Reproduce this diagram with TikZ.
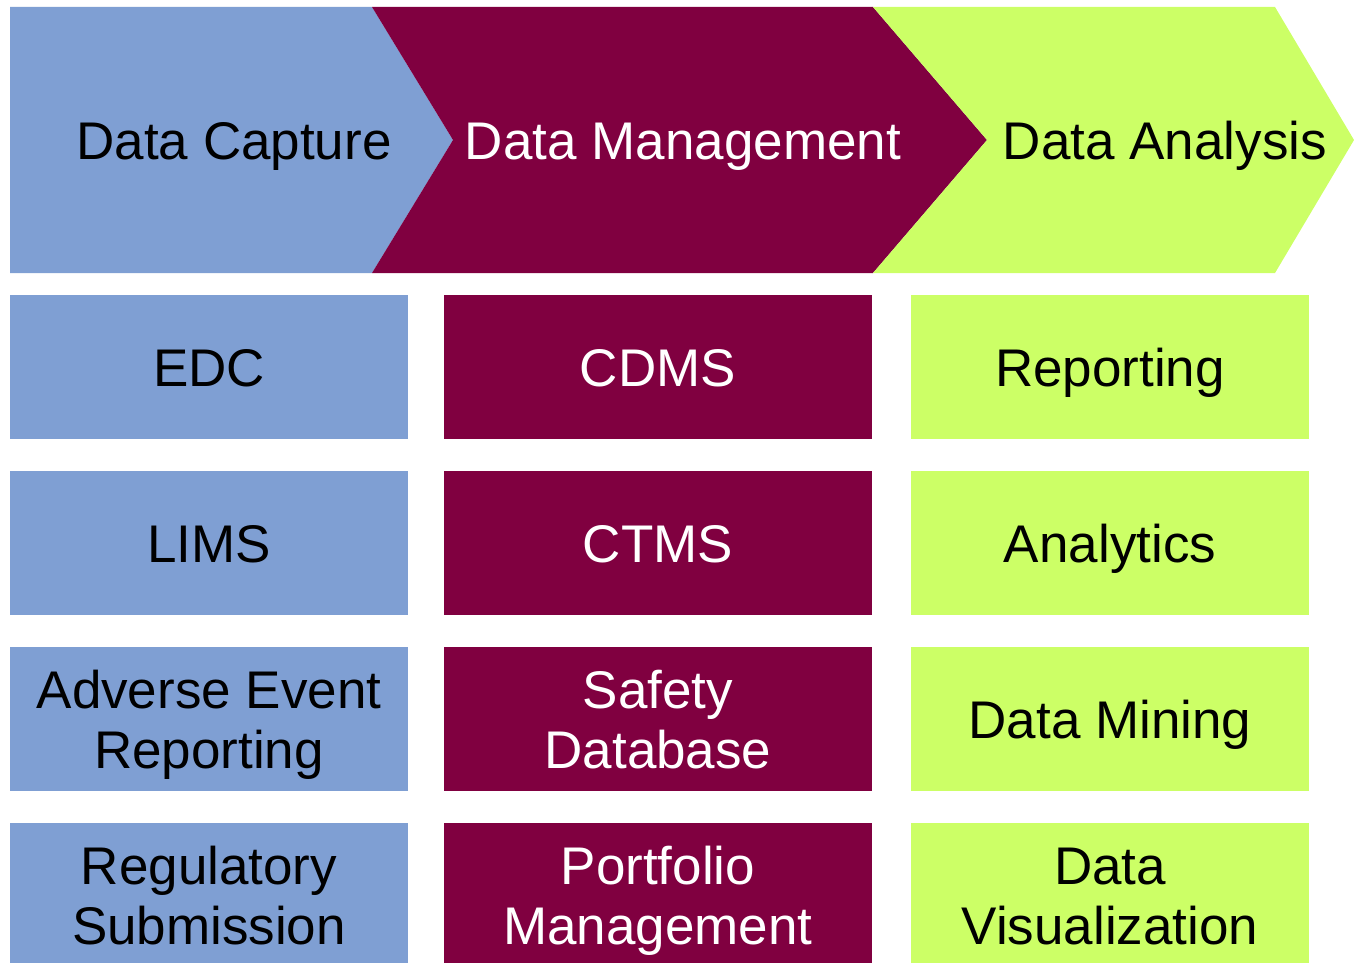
\documentclass[tikz,border=0pt]{standalone}
\usepackage{fontspec}
\setmainfont{Liberation Sans}
\definecolor{capblue}{RGB}{127,159,211}
\definecolor{mgmtred}{RGB}{128,0,64}
\definecolor{anagreen}{RGB}{204,255,102}
\begin{document}
\begin{tikzpicture}[x=1pt,y=-1pt,
  label/.style={inner sep=0pt,font=\fontsize{53}{60}\selectfont,align=center,
    text height=38pt,text depth=0pt},
  twoline/.style={text height=98pt},
  capbox/.style={label,fill=capblue,text=black,minimum width=398pt,minimum height=144pt},
  mgmtbox/.style={label,fill=mgmtred,text=white,minimum width=428pt,minimum height=144pt},
  anabox/.style={label,fill=anagreen,text=black,minimum width=398pt,minimum height=144pt}]
\useasboundingbox (0,0) rectangle (1354,963);
% chevrons
\fill[capblue] (10,7) -- (372,7) -- (453,140) -- (372,273) -- (10,273) -- cycle;
\fill[mgmtred] (372,7) -- (873,7) -- (987,140) -- (873,273) -- (372,273) -- (453,140) -- cycle;
\fill[anagreen] (873,7) -- (1275,7) -- (1354,140) -- (1275,273) -- (873,273) -- (987,140) -- cycle;
\node[label] (capture) at (234,140) {Data Capture};
\node[label,text=white] (management) at (683,140) {Data Management};
\node[label] (analysis) at (1165,140) {Data Analysis};
% capture column
\node[capbox] (edc) at (209,367) {EDC};
\node[capbox] (lims) at (209,543) {LIMS};
\node[capbox,twoline] (adverse) at (209,719) {Adverse Event\\Reporting};
\node[capbox,twoline] (regulatory) at (209,895) {Regulatory\\Submission};
% management column
\node[mgmtbox] (cdms) at (658,367) {CDMS};
\node[mgmtbox] (ctms) at (658,543) {CTMS};
\node[mgmtbox,twoline] (safety) at (658,719) {Safety\\Database};
\node[mgmtbox,twoline] (portfolio) at (658,895) {Portfolio\\Management};
% analysis column
\node[anabox] (reporting) at (1110,367) {Reporting};
\node[anabox] (analytics) at (1110,543) {Analytics};
\node[anabox] (mining) at (1110,719) {Data Mining};
\node[anabox,twoline] (visual) at (1110,895) {Data\\Visualization};
\end{tikzpicture}
\end{document}
